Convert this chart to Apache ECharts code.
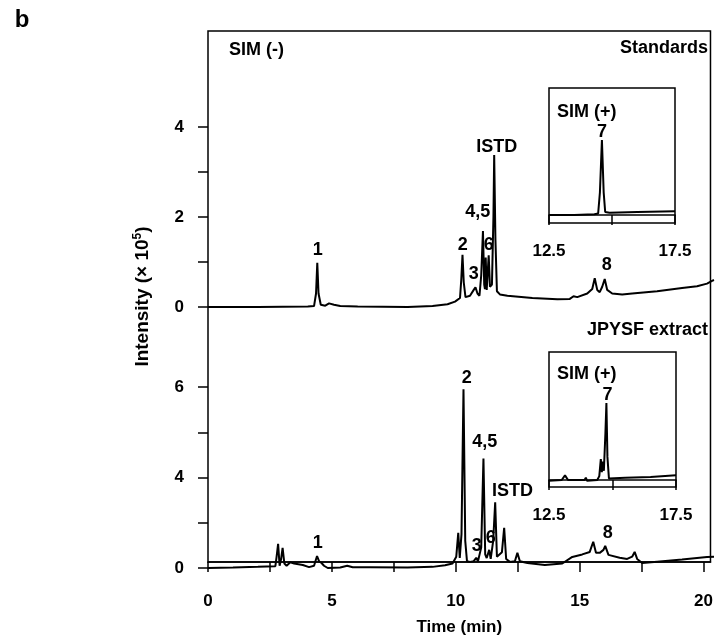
<!DOCTYPE html>
<html>
<head>
<meta charset="utf-8">
<script src="https://cdn.jsdelivr.net/npm/echarts@6/dist/echarts.min.js"></script>
<style>html,body{margin:0;padding:0;background:#fff;}#c{width:716px;height:641px;}</style>
</head>
<body>
<div id="c"></div>
<script>
// ---- Data ----
// Upper trace: Standards, SIM(-), intensity x10^5
const stdTime = [0, 2, 4.0, 4.25, 4.33, 4.38, 4.43, 4.52, 4.7, 4.85, 4.93, 5.05, 5.3, 6, 8, 9, 9.6, 9.9, 10.1, 10.15, 10.2, 10.25, 10.32, 10.5, 10.65, 10.72, 10.8, 10.88, 10.95, 11.02, 11.07, 11.1, 11.13, 11.17, 11.21, 11.25, 11.3, 11.38, 11.44, 11.47, 11.52, 11.58, 11.7, 12, 13, 14, 14.5, 14.65, 14.8, 15.2, 15.4, 15.5, 15.6, 15.7, 15.8, 15.9, 16.0, 16.2, 16.6, 17, 18, 19, 19.6, 20, 20.2, 20.28];
const stdValue = [0, 0, 0.01, 0.02, 0.3, 0.98, 0.3, 0.05, 0.03, 0.08, 0.1, 0.05, 0.02, 0.01, 0.0, 0.02, 0.06, 0.12, 0.2, 0.6, 1.16, 0.55, 0.22, 0.25, 0.38, 0.44, 0.3, 0.25, 0.7, 1.69, 0.5, 0.4, 1.1, 0.38, 0.4, 1.15, 0.45, 0.5, 2.0, 3.38, 1.5, 0.35, 0.28, 0.25, 0.2, 0.17, 0.18, 0.24, 0.22, 0.3, 0.4, 0.64, 0.38, 0.33, 0.45, 0.62, 0.38, 0.3, 0.28, 0.3, 0.35, 0.42, 0.46, 0.52, 0.58, 0.6];

// Lower trace: JPYSF extract, SIM(-)
const extTime = [0, 1, 2, 2.7, 2.75, 2.81, 2.87, 2.93, 2.99, 3.06, 3.15, 3.3, 3.37, 3.45, 3.8, 4.05, 4.25, 4.37, 4.45, 4.55, 4.65, 4.8, 5.3, 5.58, 5.8, 6.5, 8, 9, 9.5, 9.8, 9.95, 10.03, 10.09, 10.16, 10.24, 10.31, 10.38, 10.5, 10.65, 10.75, 10.82, 10.95, 11.04, 11.11, 11.17, 11.27, 11.33, 11.43, 11.51, 11.58, 11.66, 11.78, 11.87, 11.95, 12.1, 12.3, 12.4, 12.5, 12.8, 13.5, 14.2, 14.6, 15.0, 15.3, 15.44, 15.55, 15.7, 15.85, 15.92, 16.05, 16.5, 16.8, 17.0, 17.1, 17.2, 17.4, 18, 19, 20, 20.28];
const extValue = [0.0, 0.02, 0.05, 0.08, 0.5, 1.07, 0.1, 0.4, 0.89, 0.2, 0.1, 0.25, 0.3, 0.2, 0.13, 0.04, 0.1, 0.53, 0.3, 0.22, 0.1, 0.0, 0.02, 0.1, 0.03, 0.03, 0.02, 0.05, 0.12, 0.2, 0.5, 1.55, 0.44, 1.5, 7.9, 1.2, 0.3, 0.27, 0.3, 0.45, 0.3, 0.9, 4.84, 0.6, 0.44, 0.8, 0.4, 1.2, 2.9, 0.5, 0.44, 0.7, 1.78, 0.4, 0.27, 0.3, 0.67, 0.3, 0.22, 0.13, 0.2, 0.49, 0.6, 0.71, 1.16, 0.67, 0.67, 0.8, 0.98, 0.58, 0.45, 0.4, 0.5, 0.71, 0.4, 0.22, 0.28, 0.38, 0.49, 0.5];

// Insets: SIM(+) traces, relative intensity
const insStdTime = [12.5, 13.5, 14.3, 14.45, 14.52, 14.6, 14.67, 14.73, 14.9, 16, 17.5];
const insStdValue = [0, 0, 0.01, 0.02, 0.3, 1.0, 0.3, 0.04, 0.03, 0.04, 0.05];
const insExtTime = [12.5, 13.0, 13.13, 13.25, 13.9, 13.95, 14.0, 14.4, 14.48, 14.54, 14.58, 14.61, 14.66, 14.72, 14.76, 14.8, 14.86, 15.5, 16.5, 17.5];
const insExtValue = [-0.01, 0.0, 0.06, 0.0, 0.0, 0.03, -0.01, 0.0, 0.05, 0.27, 0.1, 0.24, 0.12, 0.6, 1.0, 0.3, 0.02, 0.03, 0.04, 0.06];

// Peak labels
const stdPeakNames = ['1', '2', '3', '4,5', '6', 'ISTD', '8'];
const stdPeakTime  = [4.4, 10.21, 10.65, 10.81, 11.25, 11.57, 15.98];
const stdPeakValue = [1.27, 1.38, 0.73, 2.11, 1.38, 3.56, 0.93];
const extPeakNames = ['1', '2', '3', '4,5', '6', 'ISTD', '8'];
const extPeakTime  = [4.4, 10.37, 10.77, 11.09, 11.33, 12.2, 16.02];
const extPeakValue = [1.11, 8.4, 0.98, 5.56, 1.33, 3.38, 1.56];
const insStdLabel = {name: '7', t: 14.6, v: 1.11};
const insExtLabel = {name: '7', t: 14.8, v: 1.1};

// Tick labels
const timeTicks = [0, 2.5, 5, 7.5, 10, 12.5, 15, 17.5, 20];
const timeLabels = [0, 5, 10, 15, 20];
const stdYTicks = [0, 1, 2, 3, 4];
const stdYLabels = [0, 2, 4];
const extYTicks = [0, 2, 4, 6, 8];
const extYLabelValues = [0, 4, 8];
const extYLabelTexts = ['0', '4', '6'];
const insetTicks = [12.5, 15, 17.5];
const insetLabels = [12.5, 17.5];

// ---- Chart ----
const FONT = '"Liberation Sans", Arial, Helvetica, sans-serif';
const chart = echarts.init(document.getElementById('c'), null, {renderer: 'canvas'});
const zip = (a, b) => a.map((x, i) => [x, b[i]]);
const black = '#000';
const XMAX = 20.28;
const hiddenX = (gi, min, max) => ({gridIndex: gi, type: 'value', min, max, show: false});

const labelSeries = (xi, yi, names, ts, vs) => ({
  type: 'scatter', xAxisIndex: xi, yAxisIndex: yi, symbolSize: 0, clip: false, silent: true,
  itemStyle: {opacity: 1},
  data: names.map((n, i) => ({name: n, value: [ts[i], vs[i]]})),
  label: {show: true, position: 'inside', formatter: p => p.name, color: black, opacity: 1,
          fontFamily: FONT, fontWeight: 'bold', fontSize: 18}
});

const insetX = (gi) => ({gridIndex: gi, type: 'value', min: 12.5, max: 17.5, interval: 2.5,
  axisLine: {show: true, lineStyle: {color: black, width: 1.5}},
  axisTick: {show: true, inside: false, length: 10, customValues: insetTicks, lineStyle: {color: black, width: 1.5}},
  axisLabel: {show: true, margin: 20, customValues: insetLabels, color: black, fontFamily: FONT, fontWeight: 'bold', fontSize: 17,
              formatter: v => (insetLabels.indexOf(v) >= 0 ? v.toFixed(1) : '')},
  splitLine: {show: false}});

const option = {
  animation: false,
  backgroundColor: '#fff',
  grid: [
    {left: 208, top: 31, width: 506, height: 547, show: true, borderColor: black, borderWidth: 1.5, backgroundColor: 'transparent'},
    {left: 208, top: 127, width: 506, height: 180},
    {left: 208, top: 387, width: 506, height: 181},
    {left: 549, top: 88, width: 126, height: 135, show: true, borderColor: black, borderWidth: 1.5},
    {left: 549, top: 352, width: 127, height: 135, show: true, borderColor: black, borderWidth: 1.5}
  ],
  xAxis: [
    {gridIndex: 0, type: 'value', min: 0, max: XMAX, interval: 2.5,
     axisLine: {show: true, lineStyle: {color: black, width: 1.5}},
     axisTick: {show: true, inside: false, length: 10, customValues: timeTicks, lineStyle: {color: black, width: 1.5}},
     axisLabel: {show: true, margin: 31, customValues: timeLabels, color: black, fontFamily: FONT, fontWeight: 'bold', fontSize: 17,
                 formatter: v => (timeLabels.indexOf(v) >= 0 ? String(v) : '')},
     splitLine: {show: false},
     name: 'Time (min)', nameLocation: 'middle', nameGap: 57,
     nameTextStyle: {color: black, fontFamily: FONT, fontWeight: 'bold', fontSize: 17}},
    hiddenX(1, 0, XMAX),
    hiddenX(2, 0, XMAX),
    insetX(3),
    insetX(4)
  ],
  yAxis: [
    {gridIndex: 0, type: 'value', min: 0, max: 1,
     axisLine: {show: false}, axisTick: {show: false}, axisLabel: {show: false}, splitLine: {show: false},
     name: '{a|Intensity (× 10}{s|5}{a|)}', nameLocation: 'middle', nameGap: 54, nameRotate: 90,
     nameTextStyle: {rich: {
       a: {color: black, fontFamily: FONT, fontWeight: 'bold', fontSize: 19},
       s: {color: black, fontFamily: FONT, fontWeight: 'bold', fontSize: 12, padding: [0, 0, 10, 0]}
     }}},
    {gridIndex: 1, type: 'value', min: 0, max: 4, interval: 1,
     axisLine: {show: false},
     axisTick: {show: true, inside: false, length: 10, customValues: stdYTicks, lineStyle: {color: black, width: 1.5}},
     axisLabel: {show: true, margin: 24, customValues: stdYLabels, color: black, fontFamily: FONT, fontWeight: 'bold', fontSize: 17,
                 formatter: v => (stdYLabels.indexOf(v) >= 0 ? String(v) : '')},
     splitLine: {show: false}},
    {gridIndex: 2, type: 'value', min: 0, max: 8, interval: 2,
     axisLine: {show: false},
     axisTick: {show: true, inside: false, length: 10, customValues: extYTicks, lineStyle: {color: black, width: 1.5}},
     axisLabel: {show: true, margin: 24, customValues: extYLabelValues, color: black, fontFamily: FONT, fontWeight: 'bold', fontSize: 17,
                 formatter: v => { const i = extYLabelValues.indexOf(v); return i >= 0 ? extYLabelTexts[i] : ''; }},
     splitLine: {show: false}},
    {gridIndex: 3, type: 'value', min: -0.107, max: 1.693, show: false},
    {gridIndex: 4, type: 'value', min: -0.091, max: 1.662, show: false}
  ],
  series: [
    {type: 'line', xAxisIndex: 1, yAxisIndex: 1, data: zip(stdTime, stdValue), symbol: 'none', clip: false,
     lineStyle: {color: black, width: 2}},
    {type: 'line', xAxisIndex: 2, yAxisIndex: 2, data: zip(extTime, extValue), symbol: 'none', clip: false,
     lineStyle: {color: black, width: 2}},
    {type: 'line', xAxisIndex: 3, yAxisIndex: 3, data: zip(insStdTime, insStdValue), symbol: 'none', clip: false,
     lineStyle: {color: black, width: 2}},
    {type: 'line', xAxisIndex: 4, yAxisIndex: 4, data: zip(insExtTime, insExtValue), symbol: 'none', clip: false,
     lineStyle: {color: black, width: 2}},
    labelSeries(1, 1, stdPeakNames, stdPeakTime, stdPeakValue),
    labelSeries(2, 2, extPeakNames, extPeakTime, extPeakValue),
    labelSeries(3, 3, [insStdLabel.name], [insStdLabel.t], [insStdLabel.v]),
    labelSeries(4, 4, [insExtLabel.name], [insExtLabel.t], [insExtLabel.v])
  ],
  graphic: [
    {type: 'text', x: 22, y: 20, style: {text: 'b', fill: black, font: 'bold 24px ' + FONT, align: 'center', verticalAlign: 'middle'}},
    {type: 'text', x: 229, y: 50, style: {text: 'SIM (-)', fill: black, font: 'bold 18px ' + FONT, align: 'left', verticalAlign: 'middle'}},
    {type: 'text', x: 708, y: 48, style: {text: 'Standards', fill: black, font: 'bold 18px ' + FONT, align: 'right', verticalAlign: 'middle'}},
    {type: 'text', x: 708, y: 330, style: {text: 'JPYSF extract', fill: black, font: 'bold 18px ' + FONT, align: 'right', verticalAlign: 'middle'}},
    {type: 'text', x: 557, y: 112, style: {text: 'SIM (+)', fill: black, font: 'bold 18px ' + FONT, align: 'left', verticalAlign: 'middle'}},
    {type: 'text', x: 557, y: 374, style: {text: 'SIM (+)', fill: black, font: 'bold 18px ' + FONT, align: 'left', verticalAlign: 'middle'}}
  ]
};
chart.setOption(option);
</script>
</body>
</html>
